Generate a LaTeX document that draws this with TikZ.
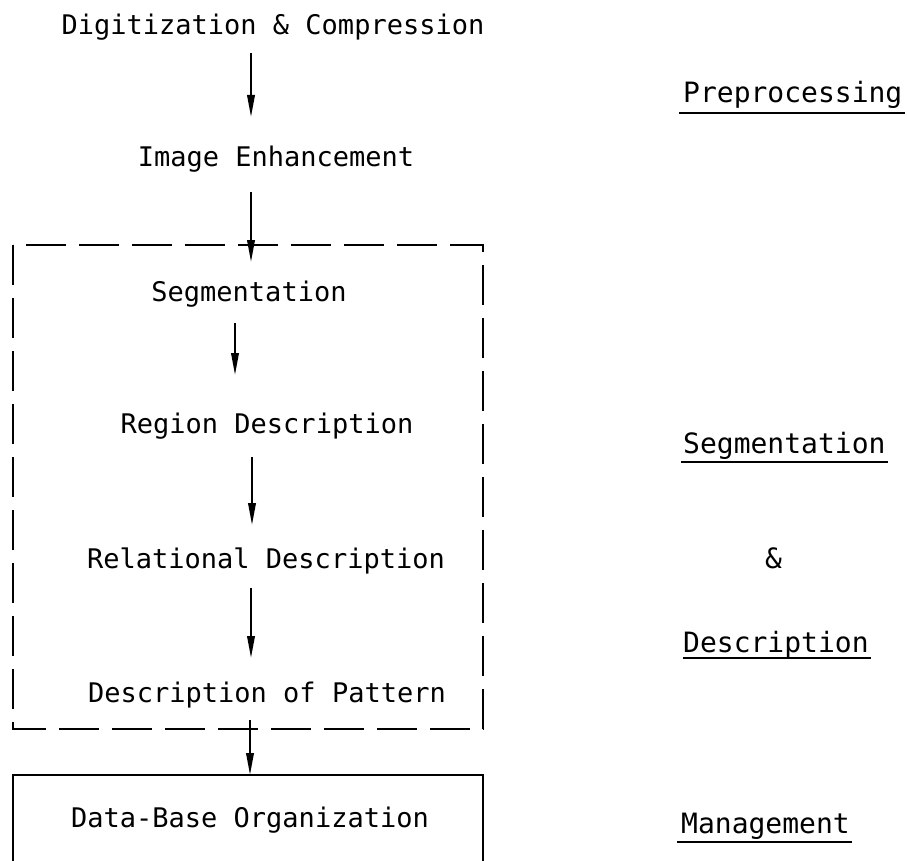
\documentclass[tikz,border=0pt]{standalone}
\usepackage{fontspec}
\setmonofont{DejaVu Sans Mono}
\usetikzlibrary{arrows.meta}
\tikzset{
  lbl/.style={font=\ttfamily\fontsize{27}{30}\selectfont, inner sep=0pt, anchor=base},
  side/.style={font=\ttfamily\fontsize{28}{30}\selectfont, inner sep=0pt, anchor=base west},
  flow/.style={line width=2pt, -{Triangle[length=22pt,width=7.5pt]}},
  dashbox/.style={line width=1.6pt, dash pattern=on 40pt off 13pt},
  solidbox/.style={line width=1.6pt},
  uline/.style={line width=1.6pt}
}
\begin{document}
\begin{tikzpicture}[x=1pt,y=-1pt]
\useasboundingbox[fill=white] (0,0) rectangle (907,861);

% left column texts
\node[lbl] (dig) at (273,35) {Digitization \& Compression};
\node[lbl] (ie) at (276,167) {Image Enhancement};
\node[lbl] (seg) at (249,301) {Segmentation};
\node[lbl] (rd) at (267,433) {Region Description};
\node[lbl] (reld) at (266,568) {Relational Description};
\node[lbl] (dp) at (267,702) {Description of Pattern};
\node[lbl] (db) at (250,827) {Data-Base Organization};

% boxes
\coordinate (dtl) at (13,245);
\coordinate (dbr) at (483,729);
\draw[dashbox] (dtl) rectangle (dbr);
\coordinate (sbl) at (13,875);
\coordinate (stl) at (13,775);
\coordinate (str) at (483,775);
\coordinate (sbr) at (483,875);
\draw[solidbox] (sbl) -- (stl) -- (str) -- (sbr);

% arrows
\coordinate (a1s) at (251,53);  \coordinate (a1e) at (251,117);
\coordinate (a2s) at (251,192); \coordinate (a2e) at (251,262);
\coordinate (a3s) at (235,323); \coordinate (a3e) at (235,375);
\coordinate (a4s) at (252,457); \coordinate (a4e) at (252,525);
\coordinate (a5s) at (251,588); \coordinate (a5e) at (251,658);
\coordinate (a6s) at (250,720); \coordinate (a6e) at (250,775);
\draw[flow] (a1s) -- (a1e);
\draw[flow] (a2s) -- (a2e);
\draw[flow] (a3s) -- (a3e);
\draw[flow] (a4s) -- (a4e);
\draw[flow] (a5s) -- (a5e);
\draw[flow] (a6s) -- (a6e);

% right labels
\node[side] (pre) at (683,103) {Preprocessing};
\node[side] (sg) at (683,453) {Segmentation};
\node[side] (amp) at (765,568) {\&};
\node[side] (desc) at (683,652) {Description};
\node[side] (man) at (681,833) {Management};
\draw[uline] ([shift={(-4,10)}]pre.base west) -- ([shift={(2,10)}]pre.base east);
\draw[uline] ([shift={(-2,9)}]sg.base west) -- ([shift={(2,9)}]sg.base east);
\draw[uline] ([shift={(0,6)}]desc.base west) -- ([shift={(2,6)}]desc.base east);
\draw[uline] ([shift={(-4,9)}]man.base west) -- ([shift={(2,9)}]man.base east);
\end{tikzpicture}
\end{document}
